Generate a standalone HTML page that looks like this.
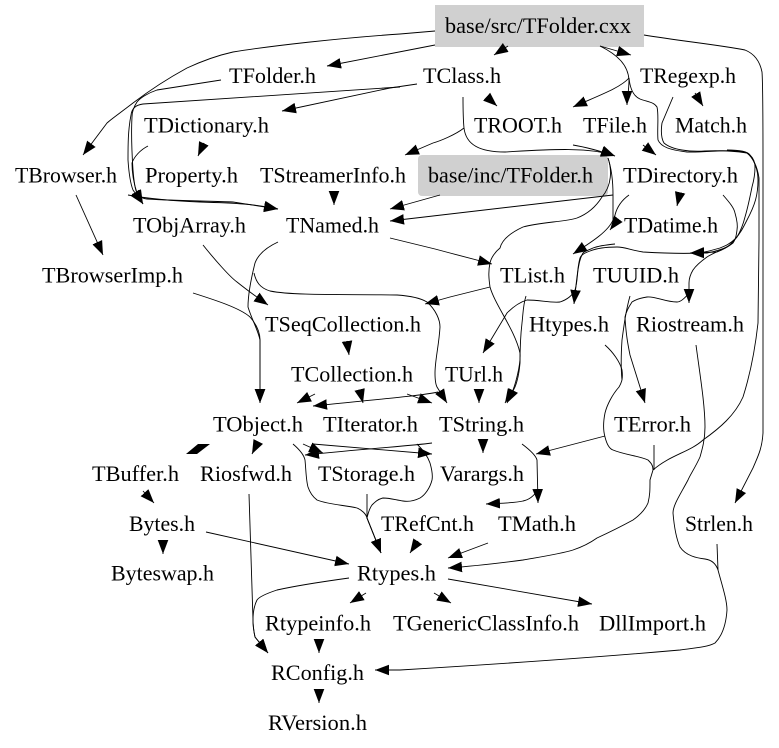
<!DOCTYPE html>
<html>
<head>
<meta charset="utf-8">
<style>
html,body{margin:0;padding:0;background:#fff}
svg{display:block}
text{font-family:"Liberation Serif",serif;font-size:21.7px;fill:#000}
path{fill:none;stroke:#000;stroke-width:0.9}
</style>
</head>
<body>
<svg width="779" height="748" viewBox="0 0 779 748" xmlns="http://www.w3.org/2000/svg">
<defs>
<marker id="a" markerUnits="userSpaceOnUse" markerWidth="15" markerHeight="12" refX="14" refY="6" orient="auto">
<polygon points="0,0.7 14,6 0,11.3" fill="#000"/>
</marker>
</defs>
<rect x="435" y="5" width="209" height="42" fill="#d0d0d0"/>
<rect x="418" y="155" width="190" height="41" fill="#d0d0d0" rx="4"/>

<g marker-end="url(#a)">
<path d="M435,31 L400,34 C340,38 270,46 233,52 C215,56 200,62 187,68 C165,80 150,90 133,103 C120,113 110,120 107,123 L83,155"/>
<path d="M435,45 L327,66"/>
<path d="M508,46 L494,55"/>
<path d="M600,46 L631,55"/>
<path d="M600,46 C618,55 628,65 629,80 C629,90 627,100 627,105"/>
<path d="M629,78 C620,88 600,95 573,107"/>
<path d="M487,97 L497,106"/>
<path d="M463,97 C463,110 463,118 464,128 C466,145 480,152 505,152 C540,150 590,146 615,156"/>
<path d="M464,128 C455,135 440,141 433,143 L405,155"/>
<path d="M417,84 L390,88 L282,111"/>
<path d="M400,87 L143,104 C136,105 132,108 131,115 C128,130 128,145 128,160 C129,175 131,185 133,190 L143,204"/>
<path d="M221,80 C190,85 170,88 157,90 C148,93 140,98 137,102 C133,108 132,113 132,117 C131,135 132,155 133,170 C134,182 135,190 137,193 C139,197 144,199 147,199 C180,201 210,201 233,202 L278,209"/>
<path d="M128,195 C150,199 175,201 200,202 C235,203 255,204 278,209"/>
<path d="M148,146 C140,150 134,157 132,163 C132,175 135,187 137,193 L143,204"/>
<path d="M204,143 L198,156"/>
<path d="M334,193 L334,205"/>
<path d="M440,195 L390,209"/>
<path d="M613,195 L390,221"/>
<path d="M390,238 L435,249 L450,253 L492,264"/>
<path d="M573,145 C585,147 597,150 615,156"/>
<path d="M643,145 L656,155"/>
<path d="M695,93 L703,106"/>
<path d="M608,158 C612,170 612,185 602,197 C597,205 590,213 577,218 C565,222 540,222 523,227 C510,233 502,240 500,248 C495,252 491,258 490,263 C488,272 489,280 490,287 C495,305 515,330 520,353 C521,365 515,385 513,390 L505,403"/>
<path d="M526,296 C523,305 523,315 522,323 C520,340 520,352 520,363 C519,375 517,382 515,387 L507,403"/>
<path d="M608,158 C612,170 613,183 613,195 L613,220 C608,232 590,243 573,254"/>
<path d="M629,195 C622,200 617,207 615,215 C614,222 613,226 610,230"/>
<path d="M680,193 L677,206"/>
<path d="M490,287 L450,297 L425,304"/>
<path d="M278,242 C265,248 258,255 255,263 C252,275 248,292 248,307 C252,320 258,330 260,340 L260,403"/>
<path d="M193,293 C215,300 240,308 250,317 C257,325 260,333 260,340 L260,403"/>
<path d="M254,273 C256,282 260,288 270,291 C295,296 350,294 397,295 C412,296 422,299 427,302 C436,310 440,320 440,327 C439,345 435,360 435,373 C435,380 436,385 437,387 L447,403"/>
<path d="M203,245 C215,260 230,277 237,282 C247,290 258,298 268,305"/>
<path d="M76,195 L103,255"/>
<path d="M347,341 L349,355"/>
<path d="M315,394 L297,403"/>
<path d="M360,391 L363,403"/>
<path d="M407,394 L432,403"/>
<path d="M438,392 C420,396 370,400 313,406"/>
<path d="M479,391 L479,403"/>
<path d="M258,442 L252,454"/>
<path d="M303,444 L323,453"/>
<path d="M313,444 L432,454"/>
<path d="M432,443 C410,446 373,448 305,455"/>
<path d="M293,444 C300,450 304,455 305,460 C306,470 306,480 308,487 C310,493 313,497 317,500 C330,505 345,505 357,508 C362,510 366,514 367,518 L381,553"/>
<path d="M367,494 L367,518 L381,553"/>
<path d="M417,444 C423,450 428,457 430,463 C432,470 433,475 432,480 C430,488 425,495 420,498 C414,501 409,502 403,501 C396,500 390,498 383,498 C378,499 375,502 372,505 C369,509 368,514 367,518 L381,553"/>
<path d="M483,441 L483,453"/>
<path d="M522,444 C530,450 536,456 537,460 L538,503"/>
<path d="M537,491 C533,497 528,500 523,501 C515,503 505,503 486,504"/>
<path d="M605,436 L536,454"/>
<path d="M418,541 L410,553"/>
<path d="M488,543 L448,558"/>
<path d="M448,579 L592,604"/>
<path d="M434,593 L451,603"/>
<path d="M366,593 L350,603"/>
<path d="M349,578 C320,582 295,586 277,590 C265,594 259,597 257,600 C254,606 253,612 253,620 C253,628 254,632 255,637 L268,653"/>
<path d="M249,494 L253,620 C253,628 254,632 255,637 L268,653"/>
<path d="M319,641 L319,653"/>
<path d="M319,691 L319,703"/>
<path d="M206,532 L349,564"/>
<path d="M163,541 L163,554"/>
<path d="M143,491 L154,503"/>

<path d="M644,35 C680,41 720,45 745,50 C755,54 760,62 762,72 C763,85 763,120 763,167 L763,240 L763,433 C762,450 757,458 753,468 L735,503"/>

<path d="M629,78 C630,88 633,96 640,99 C648,102 654,102 657,107 C659,115 657,130 658,140 C661,147 670,150 687,152 C705,153 730,148 747,153 C752,157 757,165 759,178 L759,240 L758,323 C755,350 750,375 743,397 C735,415 720,428 703,440 C690,452 670,455 653,470 L650,480 C650,490 650,495 648,503 C645,510 640,515 633,520 C622,526 610,532 597,538 C590,543 582,547 573,550 C560,554 540,557 523,560 C500,563 475,566 448,568"/>
<path d="M673,97 L662,123 C661,130 661,138 664,143 C672,150 690,152 705,151 C725,150 740,152 747,153 C754,158 758,170 758,180 C758,195 755,205 747,220 C743,228 740,234 735,239 C730,244 725,246 720,248 C710,251 705,252 700,253 C680,254 660,253 643,252 C630,250 625,247 617,247 C605,247 595,249 590,251 C584,253 581,255 580,258 C578,265 578,270 577,277 C576,285 575,295 574,304"/>
<path d="M727,150 C740,150 748,152 750,155 C754,159 755,163 755,167 C755,175 754,180 752,187 C750,197 748,207 745,217 C743,225 740,232 737,237 C733,242 730,245 727,247 C720,250 712,252 707,253 L690,253"/>
<path d="M723,195 C730,203 734,208 735,213 C737,220 738,225 737,230 C736,238 735,240 733,243 C728,247 722,250 717,252 L690,253"/>
<path d="M737,237 C733,241 731,244 730,245 C722,250 713,253 707,257 C700,262 695,267 693,270 C690,275 689,280 689,283 L689,303"/>
<path d="M615,244 C605,245 598,246 593,248 C589,250 585,251 583,253 C580,258 579,264 578,270 C577,278 577,284 575,290 C572,296 566,300 560,302 C550,303 540,300 527,300 C520,302 513,307 507,313 L483,353"/>
<path d="M689,293 C685,298 681,302 677,302 C665,302 655,296 647,297 C640,298 635,300 632,302 C628,308 626,312 625,317 C626,335 628,345 630,355 L645,403"/>
</g>

<path d="M630,296 C626,310 624,325 622,340 C621,355 621,370 622,380"/>
<path d="M605,345 C613,352 620,362 622,370 C623,378 622,382 619,387 C612,395 607,405 605,413 C603,423 603,430 605,437 C607,445 610,449 613,450 C625,455 640,456 648,460 C651,463 653,465 653,470"/>
<path d="M654,445 L654,470"/>
<g marker-end="url(#a)"><path d="M696,345 C700,375 705,405 705,427 C705,440 702,450 700,457 C695,468 690,475 688,480 C680,495 673,505 673,513 C674,525 676,538 680,547 C686,556 697,558 705,559 C712,560 716,564 718,570 C722,585 727,600 727,610 C726,625 722,636 715,643 C708,647 695,648 680,650 C600,657 500,664 400,670 L375,670"/></g>
<path d="M717,544 L718,570"/>

<polygon points="186,454 198,444 210,444 197,454" fill="#000"/>

<text x="445" y="33" textLength="186" lengthAdjust="spacingAndGlyphs">base/src/TFolder.cxx</text>
<text x="229" y="83" textLength="87" lengthAdjust="spacingAndGlyphs">TFolder.h</text>
<text x="423" y="83" textLength="78" lengthAdjust="spacingAndGlyphs">TClass.h</text>
<text x="640" y="83" textLength="96" lengthAdjust="spacingAndGlyphs">TRegexp.h</text>
<text x="144" y="132.7" textLength="125" lengthAdjust="spacingAndGlyphs">TDictionary.h</text>
<text x="474" y="132.7" textLength="88" lengthAdjust="spacingAndGlyphs">TROOT.h</text>
<text x="583" y="132.7" textLength="64" lengthAdjust="spacingAndGlyphs">TFile.h</text>
<text x="675" y="132.7" textLength="72" lengthAdjust="spacingAndGlyphs">Match.h</text>
<text x="15" y="182.7" textLength="102" lengthAdjust="spacingAndGlyphs">TBrowser.h</text>
<text x="145" y="182.7" textLength="93" lengthAdjust="spacingAndGlyphs">Property.h</text>
<text x="260" y="182.7" textLength="146" lengthAdjust="spacingAndGlyphs">TStreamerInfo.h</text>
<text x="428" y="182.7" textLength="165" lengthAdjust="spacingAndGlyphs">base/inc/TFolder.h</text>
<text x="623" y="182.7" textLength="115" lengthAdjust="spacingAndGlyphs">TDirectory.h</text>
<text x="133" y="232.7" textLength="113" lengthAdjust="spacingAndGlyphs">TObjArray.h</text>
<text x="286" y="232.7" textLength="93" lengthAdjust="spacingAndGlyphs">TNamed.h</text>
<text x="624" y="232.7" textLength="94" lengthAdjust="spacingAndGlyphs">TDatime.h</text>
<text x="42" y="282.4" textLength="141" lengthAdjust="spacingAndGlyphs">TBrowserImp.h</text>
<text x="500" y="282.4" textLength="65" lengthAdjust="spacingAndGlyphs">TList.h</text>
<text x="593" y="282.4" textLength="86" lengthAdjust="spacingAndGlyphs">TUUID.h</text>
<text x="265" y="331.7" textLength="156" lengthAdjust="spacingAndGlyphs">TSeqCollection.h</text>
<text x="529" y="331.7" textLength="80" lengthAdjust="spacingAndGlyphs">Htypes.h</text>
<text x="636" y="331.7" textLength="108" lengthAdjust="spacingAndGlyphs">Riostream.h</text>
<text x="291" y="381.7" textLength="122" lengthAdjust="spacingAndGlyphs">TCollection.h</text>
<text x="445" y="381.7" textLength="58" lengthAdjust="spacingAndGlyphs">TUrl.h</text>
<text x="213" y="431.7" textLength="90" lengthAdjust="spacingAndGlyphs">TObject.h</text>
<text x="323" y="431.7" textLength="95" lengthAdjust="spacingAndGlyphs">TIterator.h</text>
<text x="439" y="431.7" textLength="85" lengthAdjust="spacingAndGlyphs">TString.h</text>
<text x="614" y="431.7" textLength="77" lengthAdjust="spacingAndGlyphs">TError.h</text>
<text x="92" y="481" textLength="87" lengthAdjust="spacingAndGlyphs">TBuffer.h</text>
<text x="200" y="481" textLength="92" lengthAdjust="spacingAndGlyphs">Riosfwd.h</text>
<text x="318" y="481" textLength="97" lengthAdjust="spacingAndGlyphs">TStorage.h</text>
<text x="440" y="481" textLength="84" lengthAdjust="spacingAndGlyphs">Varargs.h</text>
<text x="129" y="531" textLength="66" lengthAdjust="spacingAndGlyphs">Bytes.h</text>
<text x="381" y="531" textLength="93" lengthAdjust="spacingAndGlyphs">TRefCnt.h</text>
<text x="498" y="531" textLength="78" lengthAdjust="spacingAndGlyphs">TMath.h</text>
<text x="685" y="531" textLength="68" lengthAdjust="spacingAndGlyphs">Strlen.h</text>
<text x="111" y="580.5" textLength="103" lengthAdjust="spacingAndGlyphs">Byteswap.h</text>
<text x="357" y="580.5" textLength="79" lengthAdjust="spacingAndGlyphs">Rtypes.h</text>
<text x="265" y="630.5" textLength="106" lengthAdjust="spacingAndGlyphs">Rtypeinfo.h</text>
<text x="393" y="630.5" textLength="186" lengthAdjust="spacingAndGlyphs">TGenericClassInfo.h</text>
<text x="599" y="630.5" textLength="107" lengthAdjust="spacingAndGlyphs">DllImport.h</text>
<text x="271" y="680" textLength="93" lengthAdjust="spacingAndGlyphs">RConfig.h</text>
<text x="268" y="730" textLength="99" lengthAdjust="spacingAndGlyphs">RVersion.h</text>
</svg>
</body>
</html>
